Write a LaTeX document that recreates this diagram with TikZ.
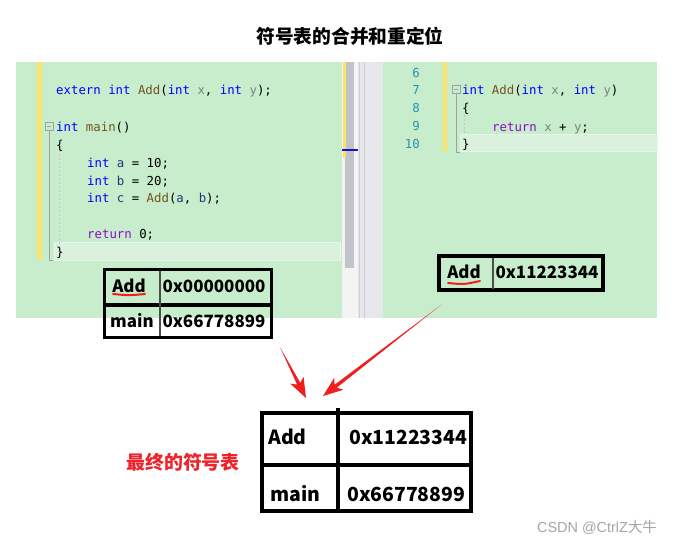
\documentclass[tikz,border=0pt]{standalone}
\usepackage{fontspec}
\setmainfont{Noto Sans CJK SC}
\newfontfamily\cjk{Noto Sans CJK SC}
\newfontfamily\codefont{DejaVu Sans Mono}
\newfontfamily\wmfont{Liberation Sans}
\usetikzlibrary{calc}
\definecolor{panelgreen}{RGB}{199,237,204}
\definecolor{hlgreen}{RGB}{217,241,221}
\definecolor{hlborder}{RGB}{230,246,232}
\definecolor{yellowbar}{RGB}{250,228,108}
\definecolor{kwblue}{RGB}{0,0,255}
\definecolor{fnbrown}{RGB}{116,83,31}
\definecolor{pgray}{RGB}{128,128,128}
\definecolor{lvblue}{RGB}{31,55,127}
\definecolor{retpurple}{RGB}{143,8,196}
\definecolor{lnteal}{RGB}{43,145,175}
\definecolor{arrowred}{RGB}{240,30,30}
\definecolor{labelred}{RGB}{238,36,42}
\definecolor{strip}{RGB}{243,243,243}
\definecolor{stripgray}{RGB}{231,231,235}
\definecolor{thumb}{RGB}{194,195,201}
\definecolor{guide}{RGB}{204,204,218}
\definecolor{foldgray}{RGB}{160,160,160}
\definecolor{wmgray}{RGB}{165,165,165}
\definecolor{scrollblue}{RGB}{20,20,200}
\newcommand\kw[1]{\textcolor{kwblue}{#1}}
\newcommand\fn[1]{\textcolor{fnbrown}{#1}}
\newcommand\pa[1]{\textcolor{pgray}{#1}}
\newcommand\lv[1]{\textcolor{lvblue}{#1}}
\newcommand\rt[1]{\textcolor{retpurple}{#1}}
\newcommand\redarrow[2]{%
  \coordinate (#1hb) at ($(#2)!16bp!(#1)$);
  \coordinate (#1bb) at ($(#2)!20bp!(#1)$);
  \fill[arrowred] (#1) -- ($(#1hb)!1.8bp!90:(#2)$) -- ($(#1bb)!7.5bp!90:(#2)$) -- (#2)
     -- ($(#1bb)!7.5bp!-90:(#2)$) -- ($(#1hb)!1.8bp!-90:(#2)$) -- cycle;}
\tikzset{
  code/.style={font=\codefont\fontsize{12.4}{14}\selectfont, anchor=mid west, inner sep=0},
  lnum/.style={font=\codefont\fontsize{12.4}{14}\selectfont, text=lnteal, anchor=mid east, inner sep=0},
  tabframe/.style={draw, line width=3.5bp, inner sep=0},
  tsmall/.style={font=\cjk\bfseries\fontsize{17}{20}\selectfont, inner sep=0},
  tbig/.style={font=\cjk\bfseries\fontsize{19.5}{24}\selectfont, inner sep=0, anchor=west},
  hlline/.style={fill=hlgreen, draw=hlborder, line width=1bp},
  fold/.style={draw=foldgray, line width=0.7bp},
  uline/.style={draw=arrowred, line width=2bp, line cap=round}
}
\begin{document}
\begin{tikzpicture}[x=1bp,y=-1bp]
\useasboundingbox (0,0) rectangle (677,545);
\fill[white] (0,0) rectangle (677,545);
% title
\node[font=\cjk\bfseries\fontsize{18.8}{22}\selectfont, inner sep=0] (title) at (350,36) {符号表的合并和重定位};
% panels
\fill[panelgreen] (16,62) rectangle (342,318);
\fill[panelgreen] (383,62) rectangle (657,318);
\fill[strip] (342,62) rectangle (358,318);
\fill[stripgray] (358,62) rectangle (383,318);
\draw[guide, line width=0.8bp] (359,62) -- (359,318) (364,62) -- (364,318);
\fill[thumb] (345,62) rectangle (354,268);
\fill[yellowbar] (343,62) rectangle (346,158);
\draw[scrollblue, line width=2bp] (342,150) -- (358,150);
\fill[yellowbar] (37,62) rectangle (42,260);
\fill[yellowbar] (443,62) rectangle (447,152);
% highlights
\path[hlline] (54,243) rectangle (340,260);
\path[hlline] (460,135) rectangle (657,152);
% left fold
\draw[fold, fill=panelgreen] (45,122) rectangle (53,130);
\draw[fold] (47,126) -- (51,126);
\draw[fold] (49,130) -- (49,260) -- (53,260);
\draw[foldgray!60, dash pattern=on 2bp off 2bp, line width=0.6bp] (59,150) -- (59,245);
% right fold
\draw[fold, fill=panelgreen] (452,85) rectangle (460,93);
\draw[fold] (454,89) -- (458,89);
\draw[fold] (456,93) -- (456,152) -- (460,152);
\draw[foldgray!60, dash pattern=on 2bp off 2bp, line width=0.6bp] (464,115) -- (464,134);
% left code
\node[code] (l1) at (56,92) {\kw{extern} \kw{int} \fn{Add}(\kw{int} \pa{x}, \kw{int} \pa{y});};
\node[code] (l2) at (56,129) {\kw{int} \fn{main}()};
\node[code] (l3) at (56,147) {\{};
\node[code] (l4) at (87,165) {\kw{int} \lv{a} = 10;};
\node[code] (l5) at (87,183) {\kw{int} \lv{b} = 20;};
\node[code] (l6) at (87,200) {\kw{int} \lv{c} = \fn{Add}(\lv{a}, \lv{b});};
\node[code] (l7) at (87,236) {\rt{return} 0;};
\node[code] (l8) at (56,254) {\}};
% right code
\node[lnum] (n6) at (420,75) {6};
\node[lnum] (n7) at (420,92) {7};
\node[lnum] (n8) at (420,110) {8};
\node[lnum] (n9) at (420,128) {9};
\node[lnum] (n10) at (420,146) {10};
\node[code] (r1) at (462,92) {\kw{int} \fn{Add}(\kw{int} \pa{x}, \kw{int} \pa{y})};
\node[code] (r2) at (462,110) {\{};
\node[code] (r3) at (492,129) {\rt{return} \pa{x} + \pa{y};};
\node[code] (r4) at (462,146) {\}};
% left table
\node[tabframe, minimum width=167bp, minimum height=68bp] (ltab) at (188,303.5) {};
\draw[line width=3.5bp] (104.5,305) -- (271.5,305);
\draw[line width=1.2bp, black!70] (160,271) -- (160,336);
\node[tsmall] (lk1) at (129,286) {Add};
\node[tsmall] (lv1) at (214,286) {0x00000000};
\node[tsmall] (lk2) at (132,321) {main};
\node[tsmall] (lv2) at (214,321) {0x66778899};
\draw[uline] (113,294) .. controls (129,295.5) .. (145,294);
% right table
\node[tabframe, minimum width=164bp, minimum height=34bp] (rtab) at (521,273) {};
\draw[line width=1.2bp, black!70] (493,257.5) -- (493,288.5);
\node[tsmall] (rk) at (464,272) {Add};
\node[tsmall] (rv) at (547,272) {0x11223344};
\draw[uline] (448,283) .. controls (464,284.5) .. (480,281);
% bottom table
\node[tabframe, line width=4bp, minimum width=209bp, minimum height=98bp] (btab) at (366.5,462) {};
\draw[line width=4bp] (338,408) -- (338,511);
\draw[line width=4bp] (262,465) -- (471,465);
\node[tbig] (bk1) at (268,437) {Add};
\node[tbig] (bv1) at (349,437) {0x11223344};
\node[tbig] (bk2) at (270,494) {main};
\node[tbig] (bv2) at (347,494) {0x66778899};
% label
\node[font=\cjk\bfseries\fontsize{19}{22}\selectfont, text=labelred, inner sep=0] (final) at (183,462) {最终的符号表};
% arrows
\coordinate (ta) at ($(ltab.south east)+(6.5,7.5)$);
\coordinate (pa) at ($(btab.north west)+(46,-13)$);
\coordinate (tb) at ($(rtab.south west)+(4,13)$);
\coordinate (pb) at ($(btab.north west)+(63,-15)$);
\redarrow{ta}{pa}
\redarrow{tb}{pb}
% watermark
\node[text=wmgray, inner sep=0] (wm) at (597,527) {{\wmfont\fontsize{14.5}{17}\selectfont CSDN @CtrlZ}{\cjk\fontsize{14.5}{17}\selectfont 大牛}};
\end{tikzpicture}
\end{document}
